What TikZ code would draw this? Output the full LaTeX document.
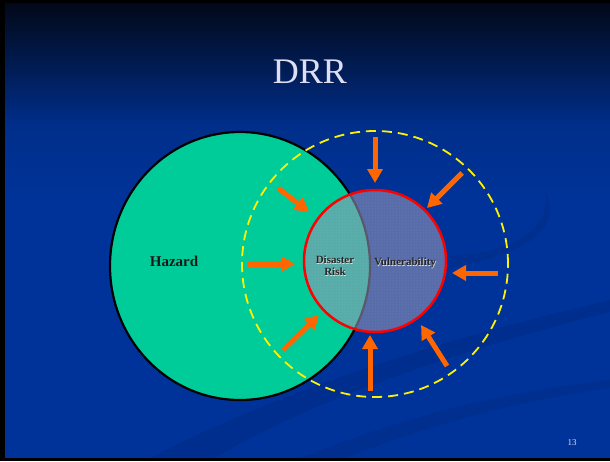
\documentclass[tikz,border=0pt]{standalone}
\usepackage{fontspec}
\setmainfont{Liberation Serif}
\usetikzlibrary{arrows.meta,patterns,shapes.geometric}
\definecolor{bgblue}{RGB}{0,51,153}
\definecolor{bgtop}{RGB}{2,8,24}
\definecolor{bgmid}{RGB}{0,46,138}
\definecolor{swoosh}{RGB}{0,44,135}
\definecolor{hazgreen}{RGB}{0,204,153}
\definecolor{arroworange}{RGB}{255,102,0}
\definecolor{titlecol}{RGB}{222,222,242}
\definecolor{veil}{RGB}{150,150,182}
\tikzset{
  pushar/.style={draw=arroworange, line width=5pt, -{Triangle[width=15pt,length=14pt]}},
  labeltxt/.style={font=\bfseries\fontsize{11}{12}\selectfont, text=black!85, align=center, inner sep=0pt},
}
\begin{document}
\begin{tikzpicture}[x=1pt,y=-1pt]
\useasboundingbox (0,0) rectangle (610,461);
% frame and background
\fill[black] (0,0) rectangle (610,461);
\fill[bgblue] (5,3) rectangle (610,458);
\shade[top color=bgtop, bottom color=bgmid] (5,3) rectangle (610,125);
\shade[top color=bgmid, bottom color=bgblue] (5,124.5) rectangle (610,200);
% subtle swooshes
\fill[swoosh, opacity=0.6] (150,458) .. controls (300,380) and (480,330) .. (610,300)
   -- (610,312) .. controls (480,345) and (320,395) .. (215,458) -- cycle;
\fill[swoosh, opacity=0.5] (300,458) .. controls (420,410) and (520,390) .. (610,380)
   -- (610,388) .. controls (520,400) and (430,425) .. (345,458) -- cycle;
\fill[swoosh, opacity=0.55] (450,268) .. controls (525,255) and (565,228) .. (545,192)
   .. controls (552,228) and (515,252) .. (450,256) -- cycle;
% circles
\node[ellipse, minimum width=260pt, minimum height=268pt, inner sep=0pt, fill=hazgreen, draw=black, line width=2.2pt] (haz) at (240,266) {};
\node[circle, minimum size=266pt, inner sep=0pt, draw=yellow, line width=1.8pt, dash pattern=on 10pt off 6pt] (zone) at (375,264) {};
\node[circle, minimum size=142pt, inner sep=0pt, fill=veil, fill opacity=0.58] (risk) at (375,261) {};
\node[circle, minimum size=142pt, inner sep=0pt, pattern=dots, pattern color=white, opacity=0.18] at (375,261) {};
\node[circle, minimum size=142pt, inner sep=0pt, draw=red, line width=2.5pt] (riskrim) at (375,261) {};
% texts
\node[font=\fontsize{36}{40}\selectfont, text=titlecol] (title) at (310,72) {DRR};
\node[font=\bfseries\fontsize{15}{17}\selectfont, text=black!90] (hazlbl) at (174,261) {Hazard};
\node[labeltxt, text=white!80!gray] at (335.6,266.6) {Disaster\\Risk};
\node[labeltxt] (drlbl) at (335,266) {Disaster\\Risk};
\node[labeltxt, text=white!80!gray] at (405.6,263.6) {Vulnerability};
\node[labeltxt] (vullbl) at (405,263) {Vulnerability};
\node[font=\fontsize{9}{10}\selectfont, text=titlecol] (num) at (572,443) {13};
% arrow end points
\coordinate (t1) at (375,137); \coordinate (h1) at (375,183);
\coordinate (t2) at (462,173); \coordinate (h2) at (427,208);
\coordinate (t3) at (498,273); \coordinate (h3) at (452,273);
\coordinate (t4) at (447,366); \coordinate (h4) at (421,325);
\coordinate (t5) at (370,391); \coordinate (h5) at (370,335);
\coordinate (t6) at (283,350); \coordinate (h6) at (319,315);
\coordinate (t7) at (247,264); \coordinate (h7) at (295,264);
\coordinate (t8) at (278,188); \coordinate (h8) at (309,212);
\foreach \i in {1,...,8} { \draw[pushar] (t\i) -- (h\i); }
\end{tikzpicture}
\end{document}
